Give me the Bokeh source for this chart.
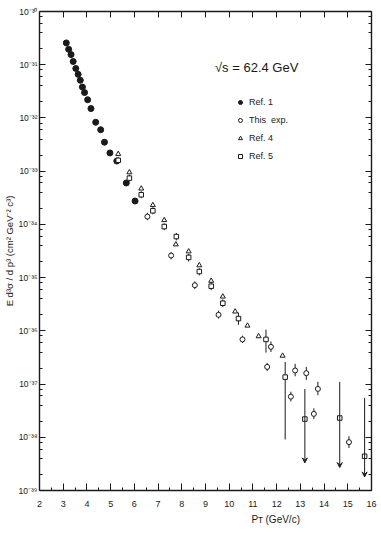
from bokeh.plotting import figure
from bokeh.embed import file_html
from bokeh.resources import INLINE
from bokeh.models import (LogAxis, LinearAxis, FixedTicker, SingleIntervalTicker,
                          CustomJSTickFormatter, Legend, LegendItem, Label, Arrow,
                          VeeHead, ColumnDataSource, Range1d, Title)

# ---------------- data ----------------
ref1_pt = [3.13, 3.23, 3.33, 3.42, 3.53, 3.63, 3.72, 3.81, 3.90, 4.03, 4.17,
           4.37, 4.58, 4.74, 4.97, 5.26, 5.66, 6.03]
ref1_val = [2.57e-31, 1.95e-31, 1.55e-31, 1.15e-31, 8.5e-32, 6.6e-32, 5.1e-32,
            3.8e-32, 3.0e-32, 2.2e-32, 1.5e-32, 8.3e-33, 6.0e-33, 3.5e-33,
            2.2e-33, 1.55e-33, 6.0e-34, 2.75e-34]

this_pt = [6.55, 7.55, 8.55, 9.55, 10.56, 11.60, 12.60, 13.57, 15.05,
           11.76, 12.78, 13.25, 13.74]
this_val = [1.4e-34, 2.6e-35, 7.2e-36, 2.0e-36, 6.9e-37, 2.1e-37, 5.8e-38,
            2.75e-38, 8.1e-39, 5.0e-37, 1.8e-37, 1.6e-37, 8.1e-38]
this_lo = [1.2e-34, 2.2e-35, 6.1e-36, 1.7e-36, 5.9e-37, 1.75e-37, 4.7e-38,
           2.2e-38, 6.3e-39, 4.0e-37, 1.4e-37, 1.2e-37, 6.2e-38]
this_hi = [1.65e-34, 3.0e-35, 8.5e-36, 2.4e-36, 8.1e-37, 2.5e-37, 7.2e-38,
           3.5e-38, 1.05e-38, 6.3e-37, 2.4e-37, 2.1e-37, 1.1e-37]

ref4_pt = [5.32, 5.79, 6.29, 6.78, 7.26, 7.75, 8.29, 8.74, 9.24, 9.73, 10.25,
           10.77, 11.24, 12.25]
ref4_val = [2.1e-33, 9.5e-34, 4.7e-34, 2.3e-34, 1.2e-34, 4.2e-35, 3.1e-35,
            1.7e-35, 8.7e-36, 4.4e-36, 2.3e-36, 1.25e-36, 7.9e-37, 3.4e-37]

ref5_pt = [5.32, 5.79, 6.29, 6.78, 7.26, 7.77, 8.29, 8.74, 9.24, 9.73, 10.39,
           11.55, 12.36, 13.19, 14.66, 15.71]
ref5_val = [1.6e-33, 7.4e-34, 3.6e-34, 1.8e-34, 9.1e-35, 5.9e-35, 2.4e-35,
            1.3e-35, 6.9e-36, 3.3e-36, 1.7e-36, 6.9e-37, 1.35e-37, 2.2e-38,
            2.3e-38, 4.4e-39]
ref5_lo = [1.4e-33, 6.4e-34, 3.1e-34, 1.55e-34, 7.8e-35, 5.0e-35, 2.0e-35,
           1.1e-35, 5.8e-36, 2.8e-36, 1.3e-36, 3.9e-37, 9.1e-39, 3.3e-39,
           2.7e-39, 1.8e-39]
ref5_hi = [1.85e-33, 8.6e-34, 4.2e-34, 2.1e-34, 1.05e-34, 6.9e-35, 2.8e-35,
           1.5e-35, 8.2e-36, 3.9e-36, 2.2e-36, 1.05e-36, 2.6e-37, 8.1e-38,
           1.1e-37, 5.5e-38]
ref5_limit = [0, 0, 0, 0, 0, 0, 0, 0, 0, 0, 0, 0, 0, 1, 1, 1]

legend_labels = ["Ref. 1", "This  exp.", "Ref. 4", "Ref. 5"]
x_title = "P\u1d1b (GeV/c)"
y_title = "E d\u00b3\u03c3 / d p\u00b3 (cm\u00b2 GeV\u207b\u00b2 c\u00b3)"
energy_text = "\u221as = 62.4  GeV"

# ---------------- figure ----------------
INK = "#1a1a1a"
FONT = "Liberation Sans"

p = figure(width=378, height=530, x_range=Range1d(2, 16), y_range=Range1d(1e-39, 1e-30),
           y_axis_type="log", output_backend="svg", toolbar_location=None,
           min_border_left=38, min_border_right=7, min_border_top=11, min_border_bottom=40)
p.xgrid.visible = False
p.ygrid.visible = False
p.outline_line_color = None
p.background_fill_color = "white"

major_y = [10.0 ** e for e in range(-39, -29)]
minor_y = [k * 10.0 ** e for e in range(-39, -30) for k in (2, 4, 6, 8)]
yticker = FixedTicker(ticks=major_y, minor_ticks=minor_y)
ylab = CustomJSTickFormatter(code="""
const e = Math.round(Math.log10(tick));
const sup = {'-':'\u207b','0':'\u2070','1':'\u00b9','2':'\u00b2','3':'\u00b3','4':'\u2074','5':'\u2075','6':'\u2076','7':'\u2077','8':'\u2078','9':'\u2079'};
return '10' + String(e).split('').map(c => sup[c]).join('');
""")
xticker = SingleIntervalTicker(interval=1, num_minor_ticks=2)

def style_axis(ax):
    ax.axis_line_color = INK
    ax.axis_line_width = 1.4
    ax.major_tick_line_color = INK
    ax.minor_tick_line_color = INK
    ax.major_tick_out = 0
    ax.minor_tick_out = 0
    ax.major_tick_in = 6
    ax.minor_tick_in = 3
    ax.major_label_text_font = FONT
    ax.major_label_text_color = INK

ya = p.yaxis[0]
ya.ticker = yticker
ya.formatter = ylab
style_axis(ya)
ya.major_label_text_font_size = "8.5px"
ya.major_label_standoff = 2
ya.axis_label = y_title
ya.axis_label_text_font = FONT
ya.axis_label_text_font_size = "9.5px"
ya.axis_label_text_font_style = "normal"
ya.axis_label_text_color = INK
ya.axis_label_standoff = 1

xa = p.xaxis[0]
xa.ticker = xticker
style_axis(xa)
xa.major_tick_in = 7
xa.major_label_text_font_size = "9px"
xa.major_label_standoff = 10

top = LinearAxis(ticker=SingleIntervalTicker(interval=1, num_minor_ticks=0))
style_axis(top)
top.major_label_text_color = None
top.major_label_text_font_size = "1px"
top.major_label_standoff = 0
p.add_layout(top, "above")

right = LogAxis(ticker=yticker)
style_axis(right)
right.major_label_text_color = None
right.major_label_text_font_size = "1px"
right.major_label_standoff = 0
p.add_layout(right, "right")

# x-axis title, placed right of centre as in the original
p.add_layout(Title(text=x_title, align="left", offset=212, text_font=FONT,
                   text_font_size="10px", text_font_style="normal", text_color=INK,
                   standoff=4), "below")

# ---------------- marks ----------------
p.segment(x0=this_pt, y0=this_lo, x1=this_pt, y1=this_hi, line_color=INK, line_width=1)

bar_src = ColumnDataSource(dict(
    x=[x for x, f in zip(ref5_pt, ref5_limit) if not f],
    lo=[v for v, f in zip(ref5_lo, ref5_limit) if not f],
    hi=[v for v, f in zip(ref5_hi, ref5_limit) if not f]))
p.segment(x0="x", y0="lo", x1="x", y1="hi", source=bar_src, line_color=INK, line_width=1)
arr_src = ColumnDataSource(dict(
    x=[x for x, f in zip(ref5_pt, ref5_limit) if f],
    lo=[v for v, f in zip(ref5_lo, ref5_limit) if f],
    hi=[v for v, f in zip(ref5_hi, ref5_limit) if f]))
p.add_layout(Arrow(end=VeeHead(size=5, line_color=INK, fill_color=INK, line_width=1),
                   x_start="x", y_start="hi", x_end="x", y_end="lo", source=arr_src,
                   line_color=INK, line_width=1))

r1 = p.scatter(ref1_pt, ref1_val, marker="circle", size=6, fill_color=INK, line_color=INK)
r2 = p.scatter(this_pt, this_val, marker="circle", size=5, fill_color="white",
               line_color=INK, line_width=1)
r3 = p.scatter(ref4_pt, ref4_val, marker="triangle", size=5, fill_color="white",
               line_color=INK, line_width=1)
r4 = p.scatter(ref5_pt, ref5_val, marker="square", size=4.5, fill_color="white",
               line_color=INK, line_width=1)

legend = Legend(items=[LegendItem(label=legend_labels[0], renderers=[r1]),
                       LegendItem(label=legend_labels[1], renderers=[r2]),
                       LegendItem(label=legend_labels[2], renderers=[r3]),
                       LegendItem(label=legend_labels[3], renderers=[r4])],
                location=(196, 328), border_line_color=None, background_fill_alpha=0,
                padding=0, margin=0, spacing=6, label_height=12, glyph_height=12,
                glyph_width=10, label_standoff=4, label_text_font_size="9px",
                label_text_font=FONT, label_text_color=INK)
p.add_layout(legend)

p.add_layout(Label(x=9.4, y=10 ** -31.05, text=energy_text, text_font=FONT,
                   text_font_size="13px", text_color=INK, text_baseline="alphabetic"))

open("out.html", "w").write(file_html(p, INLINE))
